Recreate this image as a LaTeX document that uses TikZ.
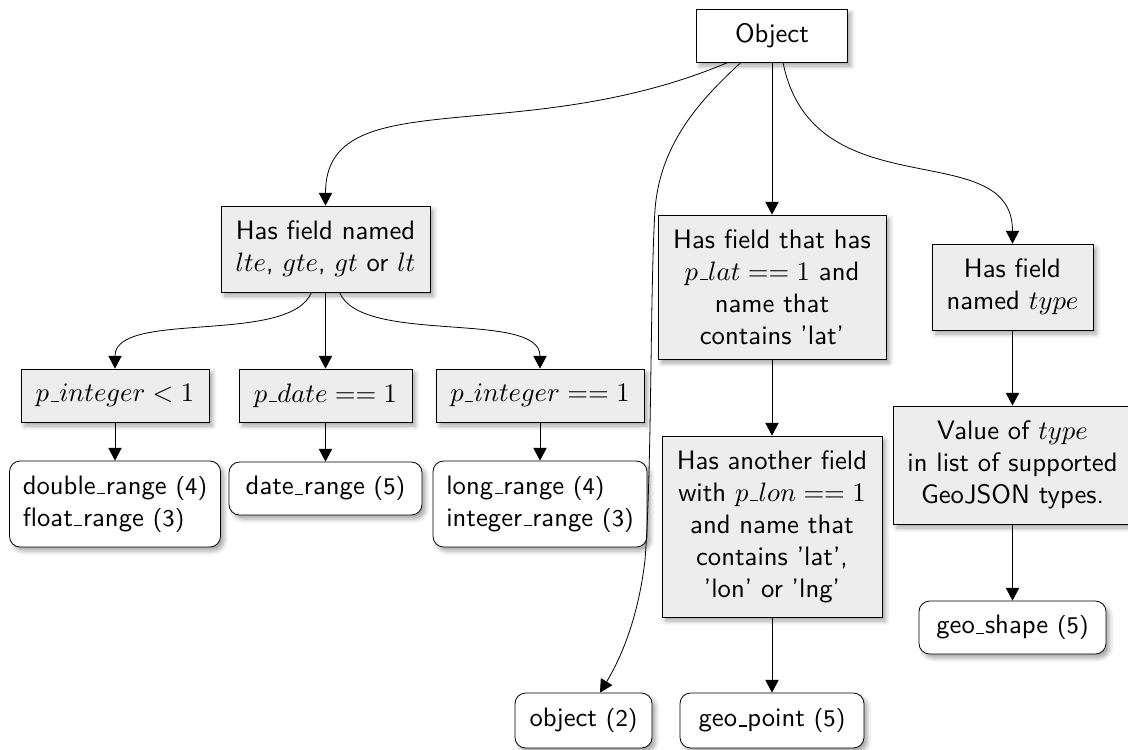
\documentclass[tikz,border=0pt]{standalone}
\usetikzlibrary{arrows.meta,calc,shadows.blur}
% short, thin underscore as in the classic OT1 fonts
\newcommand\us{\leavevmode\kern.06em\vbox{\hrule width.3em}\kern.02em}
\newcommand\cnum[1]{{\small(#1)}}
\tikzset{
  px/.style 2 args={minimum width=#1*0.375pt, minimum height=#2*0.375pt},
  softshadow/.style={blur shadow={shadow xshift=1.3pt, shadow yshift=-1.5pt,
      shadow blur radius=1.6pt, shadow opacity=35}},
  rootbox/.style={draw, fill=white, font=\sffamily, inner sep=2pt, softshadow},
  testbox/.style={draw, fill=black!7, align=center, font=\sffamily, inner sep=2pt, softshadow},
  leafbox/.style={draw, fill=white, rounded corners=4pt, align=left, font=\sffamily,
      inner sep=2pt, softshadow},
  link/.style={-{Triangle[length=4.8pt,width=5pt]}},
}
\begin{document}
\begin{tikzpicture}[x=0.375pt, y=-0.375pt, line width=0.3pt]
\useasboundingbox (0,0) rectangle (1128,749);

% root
\node[rootbox, px={151}{53}] (obj) at (772,35.5) {Object};

% range branch
\node[testbox, px={209}{86}] (hfn) at (325.5,249) {Has field named\\$lte$, $gte$, $gt$ or $lt$};
\node[testbox, px={188}{53}] (pil) at (115,395.5) {$p\us integer < 1$};
\node[testbox, px={173}{53}] (pdt) at (325.5,395.5) {$p\us date == 1$};
\node[testbox, px={208}{53}] (pie) at (540,395.5) {$p\us integer == 1$};
\node[leafbox, px={211}{86}] (dr) at (115,504) {double\us range \cnum{4}\\float\us range \cnum{3}};
\node[leafbox, px={193}{53}] (dtr) at (325.5,488.5) {date\us range \cnum{5}};
\node[leafbox, px={214}{86}] (lr) at (540,504) {long\us range \cnum{4}\\integer\us range \cnum{3}};

% geo_point branch
\node[testbox, px={228}{144}] (plat) at (772,287) {Has field that has\\$p\us lat == 1$ and\\name that\\contains 'lat'};
\node[testbox, px={220}{181}] (plon) at (772,526.5) {Has another field\\with $p\us lon == 1$\\and name that\\contains 'lat',\\'lon' or 'lng'};
\node[leafbox, px={184}{55}] (gp) at (772,720.5) {geo\us point \cnum{5}};

% geo_shape branch
\node[testbox, px={161}{86}] (ftype) at (1012.5,287) {Has field\\named $type$};
\node[testbox, px={238}{118}] (vtype) at (1012.5,465) {Value of $type$\\in list of supported\\GeoJSON types.};
\node[leafbox, px={187}{53}] (gs) at (1012.5,627.5) {geo\us shape \cnum{5}};

% plain object
\node[leafbox, px={137}{55}] (ol) at (583.5,720.5) {object \cnum{2}};

% edges from the root
\draw[link] ($(obj.south)+(-44,0)$) .. controls +(-208,88) and +(0,-126) .. (hfn.north);
\draw[link] ($(obj.south)+(-31,0)$) .. controls +(-35.5,33) and +(5,-70) .. (655,210)
            .. controls +(-5,80) and +(7,-90) .. (645,560)
            .. controls +(-7,60) and +(20,-33) .. ($(ol.north)+(16.5,0)$);
\draw[link] (obj) -- (plat);
\draw[link] ($(obj.south)+(11,0)$) .. controls +(30,150) and +(0,-110) .. (ftype.north);

% range tests
\draw[link] ($(hfn.south)+(-14,0)$) .. controls +(-22,53) and +(0,-59) .. (pil.north);
\draw[link] (hfn) -- (pdt);
\draw[link] ($(hfn.south)+(14,0)$) .. controls +(22,53) and +(0,-59) .. (pie.north);
\draw[link] (pil) -- (dr);
\draw[link] (pdt) -- (dtr);
\draw[link] (pie) -- (lr);

% geo tests
\draw[link] (plat) -- (plon);
\draw[link] (plon) -- (gp);
\draw[link] (ftype) -- (vtype);
\draw[link] (vtype) -- (gs);
\end{tikzpicture}
\end{document}
